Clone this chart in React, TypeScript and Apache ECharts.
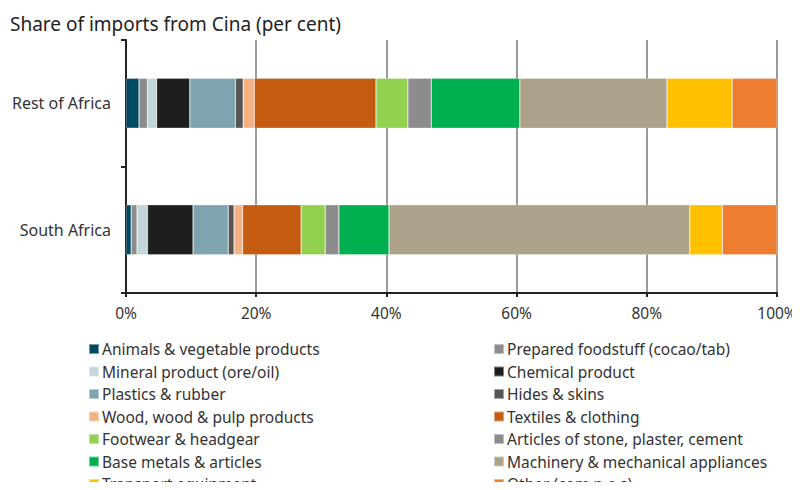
import React, { useEffect, useRef } from "react";
import * as echarts from "echarts";

// Regions shown on the category axis (bottom to top)
const regions = ["South Africa", "Rest of Africa"];

// Product groups, in stacking order
const products = [
  "Animals & vegetable products",
  "Prepared foodstuff (cocao/tab)",
  "Mineral product (ore/oil)",
  "Chemical product",
  "Plastics & rubber",
  "Hides & skins",
  "Wood, wood & pulp products",
  "Textiles & clothing",
  "Footwear & headgear",
  "Articles of stone, plaster, cement",
  "Base metals & articles",
  "Machinery & mechanical appliances",
  "Transport equipment",
  "Other (com n.e.s)",
];

// Share of imports (per cent), per product: [South Africa, Rest of Africa]
const southAfrica = [0.8, 0.9, 1.6, 7.0, 5.4, 0.9, 1.3, 9.0, 3.7, 2.1, 7.7, 46.2, 5.0, 8.4];
const restOfAfrica = [2.0, 1.3, 1.4, 5.1, 7.0, 1.2, 1.7, 18.7, 4.9, 3.6, 13.6, 22.6, 10.0, 6.9];

const colors = [
  "#004B63",
  "#8C8C8C",
  "#C3D4DB",
  "#1E1E1E",
  "#7FA3AF",
  "#555555",
  "#F4B183",
  "#C55A11",
  "#92D050",
  "#8C8C8C",
  "#00B050",
  "#ACA28A",
  "#FFC000",
  "#ED7D31",
];

const xTicks = [0, 20, 40, 60, 80, 100];

const FONT = "'Noto Sans', sans-serif";

export default function App() {
  const ref = useRef<HTMLDivElement>(null);

  useEffect(() => {
    if (!ref.current) return;
    const chart = echarts.init(ref.current, undefined, { renderer: "svg" });

    // Legend is laid out in two columns, read row by row
    const leftCol = products.filter((_, i) => i % 2 === 0);
    const rightCol = products.filter((_, i) => i % 2 === 1);

    const legendBase = {
      orient: "vertical" as const,
      top: 339,
      height: 220,
      padding: 0,
      itemWidth: 10,
      itemHeight: 10,
      itemGap: 2.5,
      icon: "rect",
      textStyle: {
        fontFamily: FONT,
        fontSize: 15.5,
        color: "#333",
        lineHeight: 16,
        // extra bottom padding lifts the label slightly against its swatch
        padding: [0, 0, 4, -2],
      },
    };

    chart.setOption({
      animation: false,
      color: colors,
      title: {
        text: "Share of imports from Cina (per cent)",
        left: 5,
        top: 9,
        textStyle: {
          fontFamily: FONT,
          fontSize: 19,
          fontWeight: "normal",
          color: "#222",
        },
      },
      legend: [
        { ...legendBase, left: 88, data: leftCol },
        { ...legendBase, left: 493, data: rightCol },
      ],
      grid: { left: 126, right: 23, top: 40, bottom: 197 },
      xAxis: {
        type: "value",
        min: xTicks[0],
        max: xTicks[xTicks.length - 1],
        interval: 20,
        axisLine: { show: true, lineStyle: { color: "#222", width: 2 } },
        axisTick: { show: true, length: 4, lineStyle: { color: "#222", width: 2 } },
        axisLabel: {
          formatter: "{value}%",
          margin: 12,
          fontFamily: FONT,
          fontSize: 15.5,
          color: "#333",
        },
        splitLine: { show: true, lineStyle: { color: "#9A9A9A", width: 2 } },
      },
      yAxis: {
        type: "category",
        data: regions,
        axisLine: { show: true, lineStyle: { color: "#222", width: 2 } },
        axisTick: { show: true, length: 5, lineStyle: { color: "#222", width: 2 } },
        axisLabel: {
          margin: 15,
          fontFamily: FONT,
          fontSize: 16,
          color: "#333",
        },
      },
      series: products.map((name, i) => ({
        name,
        type: "bar",
        stack: "total",
        barWidth: 50,
        itemStyle: {
          color: colors[i],
          borderColor: "rgba(255,255,255,0.45)",
          borderWidth: 0.6,
        },
        data: [southAfrica[i], restOfAfrica[i]],
      })),
    });

    return () => chart.dispose();
  }, []);

  return <div ref={ref} style={{ width: 800, height: 490, margin: -8 }} />;
}
